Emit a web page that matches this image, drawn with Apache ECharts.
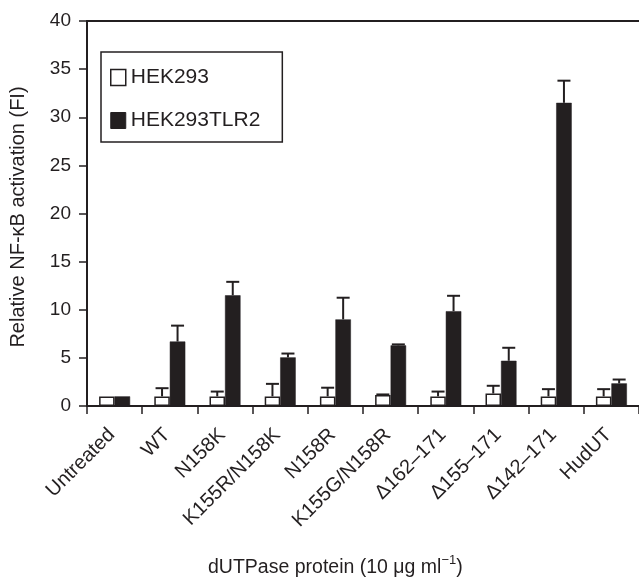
<!DOCTYPE html>
<html>
<head>
<meta charset="utf-8">
<script src="https://cdn.jsdelivr.net/npm/echarts@6/dist/echarts.min.js"></script>
<style>
  html, body { margin: 0; padding: 0; background: #fff; }
  #chart { width: 639px; height: 579px; }
</style>
</head>
<body>
<div id="chart"></div>
<script>
// Relative NF-κB activation per dUTPase variant
const categories = ['Untreated', 'WT', 'N158K', 'K155R/N158K', 'N158R', 'K155G/N158R',
  'Δ162–171', 'Δ155–171', 'Δ142–171', 'HudUT'];
const hek293 = [1.0, 1.0, 1.0, 1.0, 1.0, 1.15, 1.0, 1.3, 1.0, 1.0];
const hek293Err = [0, 0.85, 0.5, 1.3, 0.9, 0.05, 0.5, 0.8, 0.75, 0.75];
const hek293tlr2 = [1.0, 6.7, 11.5, 5.05, 9.0, 6.3, 9.85, 4.7, 31.5, 2.35];
const hek293tlr2Err = [0, 1.65, 1.4, 0.4, 2.25, 0.1, 1.6, 1.35, 2.3, 0.4];
const yTicks = [0, 5, 10, 15, 20, 25, 30, 35, 40];

const INK = '#231f20';
const FONT = 'Liberation Sans, Arial, Helvetica, sans-serif';
const BAR_W = 15.5;

// upward-only error bar with a cap, centred over one bar of the pair
function errorBar(values, errors, side) {
  return function (params, api) {
    const i = api.value(0);
    const v = values[i];
    const e = errors[i];
    if (!e) return null;
    const base = api.coord([i, v]);
    const top = api.coord([i, v + e]);
    const x = base[0] + side * BAR_W / 2;
    const cap = 6.5;
    return {
      type: 'group',
      children: [
        { type: 'line', shape: { x1: x, y1: base[1], x2: x, y2: top[1] },
          style: { stroke: INK, lineWidth: 2 } },
        { type: 'line', shape: { x1: x - cap, y1: top[1], x2: x + cap, y2: top[1] },
          style: { stroke: INK, lineWidth: 2 } }
      ]
    };
  };
}

const chart = echarts.init(document.getElementById('chart'), null, { renderer: 'canvas' });
chart.setOption({
  animation: false,
  backgroundColor: '#fff',
  textStyle: { fontFamily: FONT, color: INK },
  grid: { left: 86, top: 21, right: 0, bottom: 173 },
  legend: {
    orient: 'vertical',
    left: 101, top: 52,
    padding: [15, 22, 11, 9],
    borderColor: INK, borderWidth: 1.5,
    itemWidth: 15, itemHeight: 16, itemGap: 22, itemTextGap: 10,
    textStyle: { fontFamily: FONT, fontSize: 21, lineHeight: 21, color: INK },
    data: [
      { name: 'HEK293', icon: 'rect', itemStyle: { color: '#fff', borderColor: INK, borderWidth: 1.5 } },
      { name: 'HEK293TLR2', icon: 'rect', itemStyle: { color: INK, borderColor: INK, borderWidth: 1 } }
    ]
  },
  xAxis: [{
    type: 'category',
    data: categories,
    axisLine: { lineStyle: { color: INK, width: 2 } },
    axisTick: { show: true, length: 8, lineStyle: { color: INK, width: 1.5 } },
    axisLabel: { rotate: 45, margin: 23, fontSize: 20, color: INK, fontFamily: FONT, interval: 0, padding: [0, 4, 0, 0] }
  }, {
    type: 'category',
    position: 'top',
    data: categories,
    axisLine: { lineStyle: { color: INK, width: 2 } },
    axisTick: { show: false },
    axisLabel: { show: false }
  }],
  yAxis: {
    type: 'value',
    min: yTicks[0], max: yTicks[yTicks.length - 1], interval: 5,
    name: 'Relative NF-κB activation (FI)',
    nameLocation: 'middle', nameGap: 59,
    nameTextStyle: { fontSize: 20, color: INK, fontFamily: FONT, padding: [0, 7, 0, 0] },
    axisLine: { show: true, lineStyle: { color: INK, width: 2 } },
    axisTick: { show: true, length: 8, lineStyle: { color: INK, width: 1.5 } },
    axisLabel: { fontSize: 19, color: INK, fontFamily: FONT, margin: 16 },
    splitLine: { show: false }
  },
  title: {
    text: '{a|dUTPase protein (10 μg ml}{s|−1}{a|)}',
    left: 208, top: 554,
    padding: 0,
    textStyle: {
      fontWeight: 'normal',
      rich: {
        a: { fontSize: 19.5, fontWeight: 'normal', color: INK, fontFamily: FONT, verticalAlign: 'bottom', lineHeight: 24 },
        s: { fontSize: 13, fontWeight: 'normal', color: INK, fontFamily: FONT, verticalAlign: 'top', lineHeight: 14, padding: [0, 0, 10, 0] }
      }
    }
  },
  series: [
    {
      name: 'HEK293', type: 'bar', data: hek293,
      barWidth: BAR_W, barGap: '0%',
      itemStyle: { color: '#fff', borderColor: INK, borderWidth: 1.5 }
    },
    {
      name: 'HEK293TLR2', type: 'bar', data: hek293tlr2,
      barWidth: BAR_W, barGap: '0%',
      itemStyle: { color: INK, borderColor: INK, borderWidth: 0.5 }
    },
    {
      type: 'custom', name: 'err293', z: 1,
      renderItem: errorBar(hek293, hek293Err, -1),
      data: categories.map((c, i) => [i])
    },
    {
      type: 'custom', name: 'errTLR2', z: 1,
      renderItem: errorBar(hek293tlr2, hek293tlr2Err, 1),
      data: categories.map((c, i) => [i])
    }
  ]
});
</script>
</body>
</html>
